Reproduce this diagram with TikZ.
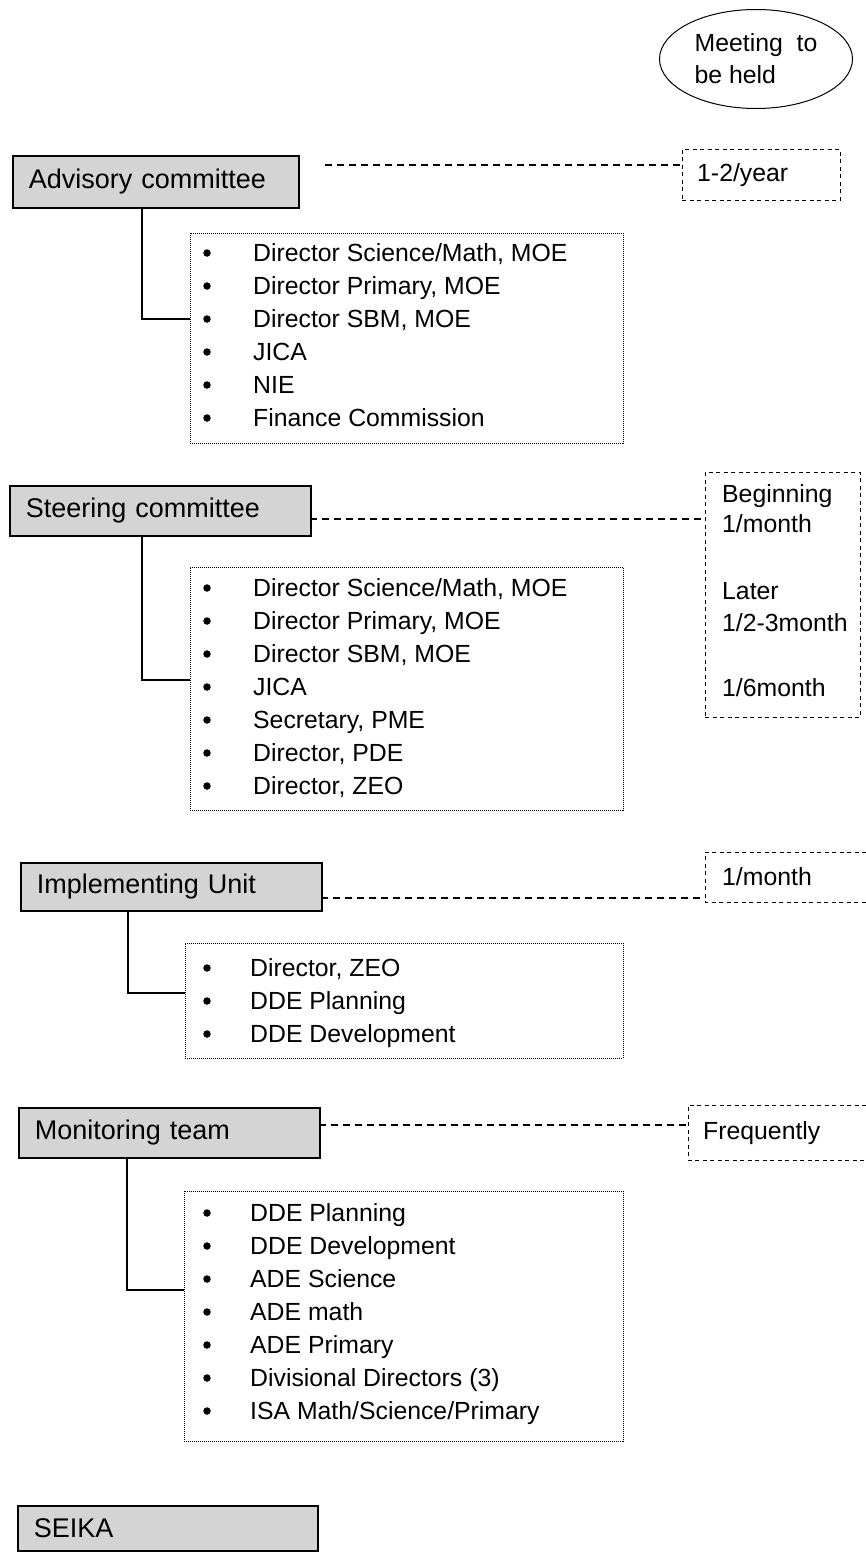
\documentclass[tikz,border=0pt]{standalone}
\usepackage{fontspec}
\setmainfont{Liberation Sans}
\usetikzlibrary{shapes.geometric}
\begin{document}
\begin{tikzpicture}[x=1pt,y=-1pt,
  hdr/.style={draw=black, line width=1.6pt, fill=black!17, anchor=north west,
    inner xsep=16pt, inner ysep=0pt, align=left,
    font=\fontsize{27}{30}\selectfont},
  membox/.style={draw=black, line width=0.8pt, dash pattern=on 1pt off 1pt,
    anchor=north west, inner sep=0pt},
  freqbox/.style={draw=black, line width=0.9pt, dash pattern=on 4pt off 3.5pt},
  item/.style={anchor=base west, inner sep=0pt, font=\fontsize{24.8}{28}\selectfont},
  bul/.style={circle, fill=black, inner sep=0pt, minimum size=7.5pt},
  link/.style={draw=black, line width=1.3pt},
  dashlink/.style={draw=black, line width=1.1pt, dash pattern=on 7pt off 5pt}
]
\useasboundingbox (0,0) rectangle (866,1556);

% legend ellipse
\node[ellipse, draw=black, line width=1pt, minimum width=193pt, minimum height=99pt,
  inner sep=0pt, align=left, font=\fontsize{24.8}{32}\selectfont] (meet) at (756,59)
  {Meeting\ \ to\\be held};

% ---------------- Advisory committee
\node[hdr, text width=254pt, minimum height=52pt] (adv) at (12,155) {Advisory committee};
\node[freqbox, anchor=north west, minimum width=158pt, minimum height=51pt, inner sep=0pt] (advf) at (682,149) {};
\node[item] (advft) at (697,181) {1-2/year};
\coordinate (advd) at (325,165);
\draw[dashlink] (advd) -- (advf.west |- advd);
\node[membox, minimum width=433pt, minimum height=210pt] (advm) at (190,233) {};
\foreach \t [count=\i from 0] in {{Director Science/Math, MOE},{Director Primary, MOE},{Director SBM, MOE},{JICA},{NIE},{Finance Commission}}{
  \node[bul] (advb\i) at (207,253+33*\i) {};
  \node[item] (advi\i) at (253,261+33*\i) {\t};
}
\coordinate (advk) at (142,0);
\coordinate (advj) at (190,319);
\draw[link] (adv.south -| advk) |- (advj);

% ---------------- Steering committee
\node[hdr, text width=269pt, minimum height=50pt] (ste) at (9,485) {Steering committee};
\node[freqbox, anchor=north west, minimum width=155pt, minimum height=245pt, inner sep=0pt] (stef) at (705,472) {};
\node[item] (stef1) at (722,502) {Beginning};
\node[item] (stef2) at (722,532) {1/month};
\node[item] (stef3) at (722,599) {Later};
\node[item] (stef4) at (722,631) {1/2-3month};
\node[item] (stef5) at (722,696) {1/6month};
\coordinate (sted) at (310,519);
\draw[dashlink] (sted) -- (stef.west |- sted);
\node[membox, minimum width=433pt, minimum height=243pt] (stem) at (190,567) {};
\foreach \t [count=\i from 0] in {{Director Science/Math, MOE},{Director Primary, MOE},{Director SBM, MOE},{JICA},{Secretary, PME},{Director, PDE},{Director, ZEO}}{
  \node[bul] (steb\i) at (207,588+33*\i) {};
  \node[item] (stei\i) at (253,596+33*\i) {\t};
}
\coordinate (stek) at (142,0);
\coordinate (stej) at (190,680);
\draw[link] (ste.south -| stek) |- (stej);

% ---------------- Implementing Unit
\node[hdr, text width=269pt, minimum height=48pt] (imp) at (20,862) {Implementing Unit};
\coordinate (impfa) at (866,852);
\coordinate (impfb) at (705,852);
\coordinate (impfc) at (705,902);
\coordinate (impfd) at (866,902);
\draw[freqbox] (impfa) -- (impfb) -- (impfc) -- (impfd);
\node[item] (impft) at (722,885) {1/month};
\coordinate (impd) at (321,898);
\draw[dashlink] (impd) -- (impfb |- impd);
\node[membox, minimum width=438pt, minimum height=115pt] (impm) at (185,943) {};
\foreach \t [count=\i from 0] in {{Director, ZEO},{DDE Planning},{DDE Development}}{
  \node[bul] (impb\i) at (207,968+33*\i) {};
  \node[item] (impi\i) at (250,976+33*\i) {\t};
}
\coordinate (impk) at (128,0);
\coordinate (impj) at (185,993);
\draw[link] (imp.south -| impk) |- (impj);

% ---------------- Monitoring team
\node[hdr, text width=269pt, minimum height=50pt] (mon) at (18,1107) {Monitoring team};
\coordinate (monfa) at (866,1105);
\coordinate (monfb) at (688,1105);
\coordinate (monfc) at (688,1160);
\coordinate (monfd) at (866,1160);
\draw[freqbox] (monfa) -- (monfb) -- (monfc) -- (monfd);
\node[item] (monft) at (703,1139) {Frequently};
\coordinate (mond) at (319,1125);
\draw[dashlink] (mond) -- (monfb |- mond);
\node[membox, minimum width=439pt, minimum height=250pt] (monm) at (184,1191) {};
\foreach \t [count=\i from 0] in {{DDE Planning},{DDE Development},{ADE Science},{ADE math},{ADE Primary},{Divisional Directors (3)},{ISA Math/Science/Primary}}{
  \node[bul] (monb\i) at (207,1213+33*\i) {};
  \node[item] (moni\i) at (250,1221+33*\i) {\t};
}
\coordinate (monk) at (127,0);
\coordinate (monj) at (184,1290);
\draw[link] (mon.south -| monk) |- (monj);

% ---------------- SEIKA
\node[hdr, text width=268pt, minimum height=45pt] (seika) at (17,1505) {SEIKA};
\end{tikzpicture}
\end{document}
